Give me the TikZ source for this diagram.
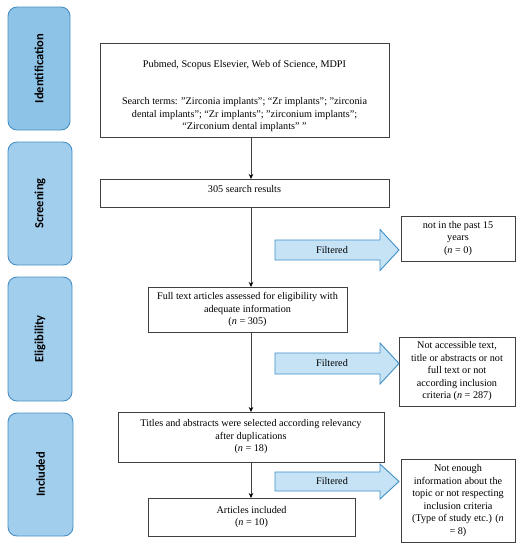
\documentclass[tikz,border=0pt]{standalone}
\usepackage{fontspec}
\setmainfont{Liberation Serif}
\newfontfamily\phasefont{Carlito}
\usetikzlibrary{arrows.meta}
\definecolor{phaseborder}{HTML}{4A90C2}
\definecolor{phasefillA}{HTML}{8EC3E8}
\definecolor{phasefillB}{HTML}{A2CEEE}
\definecolor{arrowfill}{HTML}{C6E3F6}
\definecolor{arrowborder}{HTML}{3F8EC6}
\definecolor{boxborder}{HTML}{404040}
\newcommand\mainsize{\fontsize{10.2}{12.5}\selectfont}
\newcommand\filtarrow[4]{% #1 = y of tip, #2 = half body, #3 = half head, #4 = name
  \draw[filt] (275,#1-#2) -- (380,#1-#2) -- (380,#1-#3) -- (399,#1) -- (380,#1+#3) -- (380,#1+#2) -- (275,#1+#2) -- cycle;
  \node[font=\mainsize] (#4) at (332,#1) {Filtered};}
\begin{document}
\begin{tikzpicture}[x=1pt,y=-1pt,
  every node/.style={inner sep=0pt, outer sep=0pt},
  phase/.style={draw=phaseborder, rounded corners=9pt, line width=0.9pt},
  phaselabel/.style={rotate=90, font=\phasefont\bfseries\fontsize{12.5}{14}\selectfont},
  box/.style={draw=boxborder, line width=0.9pt, fill=white, align=center, font=\mainsize},
  filt/.style={draw=arrowborder, fill=arrowfill, line width=0.9pt},
  arr/.style={draw=black!75, line width=0.6pt, -{Stealth[length=5pt,width=4.5pt,black]}}]
\useasboundingbox (0,0) rectangle (532,550);

% phase boxes
\node[phase, fill=phasefillA, minimum width=62pt, minimum height=123pt] (p1) at (39,68.5) {};
\node[phaselabel] at (p1.center) {Identification};
\node[phase, fill=phasefillB, minimum width=64pt, minimum height=123pt] (p2) at (40,203.5) {};
\node[phaselabel] at (p2.center) {Screening};
\node[phase, fill=phasefillB, minimum width=64pt, minimum height=124pt] (p3) at (40,339) {};
\node[phaselabel] at (p3.center) {Eligibility};
\node[phase, fill=phasefillB, minimum width=65pt, minimum height=123pt] (p4) at (40.5,474.5) {};
\node[phaselabel] at (p4.center) {Included};

% main boxes
\node[box, minimum width=289pt, minimum height=94pt] (b1) at (244.5,90) {};
\node[font=\mainsize, align=center, anchor=base] (b1t) at (244.5,129.5)
  {Pubmed, Scopus Elsevier, Web of Science, MDPI\\[24.5pt]
   Search terms: "Zirconia implants"; “Zr implants”; "zirconia\\
   dental implants"; “Zr implants”; "zirconium implants";\\
   “Zirconium dental implants” "};
\node[box, minimum width=289pt, minimum height=28pt, text depth=8pt] (b2) at (244.5,193) {305 search results};
\node[box, minimum width=199pt, minimum height=45pt] (b3) at (247.5,309.5)
  {Full text articles assessed for eligibility with\\ adequate information\\ (\textit{n} = 305)};
\node[box, minimum width=266pt, minimum height=50pt] (b4) at (251,437)
  {Titles and abstracts were selected according relevancy\\ after duplications\\ (\textit{n} = 18)};
\node[box, minimum width=207pt, minimum height=38pt] (b5) at (251.5,517)
  {Articles included\\ (\textit{n} = 10)};

% side boxes
\node[box, minimum width=114pt, minimum height=45pt] (s1) at (458,238.5)
  {not in the past 15\\ years\\ (\textit{n} = 0)};
\node[box, minimum width=116pt, minimum height=69pt] (s2) at (457,371.5)
  {Not accessible text,\\ title or abstracts or not\\ full text or not\\ according inclusion\\ criteria (\textit{n} = 287)};
\node[box, minimum width=114pt, minimum height=83pt] (s3) at (458,500.5)
  {Not enough\\ information about the\\ topic or not respecting\\ inclusion criteria\\ (Type of study etc.) (\textit{n}\\ = 8)};

% filter arrows
\filtarrow{250}{10}{20.5}{f1}
\filtarrow{363.5}{10.5}{20.5}{f2}
\filtarrow{481.5}{9.5}{17.5}{f3}

% connectors
\coordinate (cx) at (251,0);
\draw[arr] (b1.south -| cx) -- (b2.north -| cx);
\draw[arr] (b2.south -| cx) -- (b3.north -| cx);
\draw[arr] (b3.south -| cx) -- (b4.north -| cx);
\draw[arr] (b4.south -| cx) -- (b5.north -| cx);
\end{tikzpicture}
\end{document}
